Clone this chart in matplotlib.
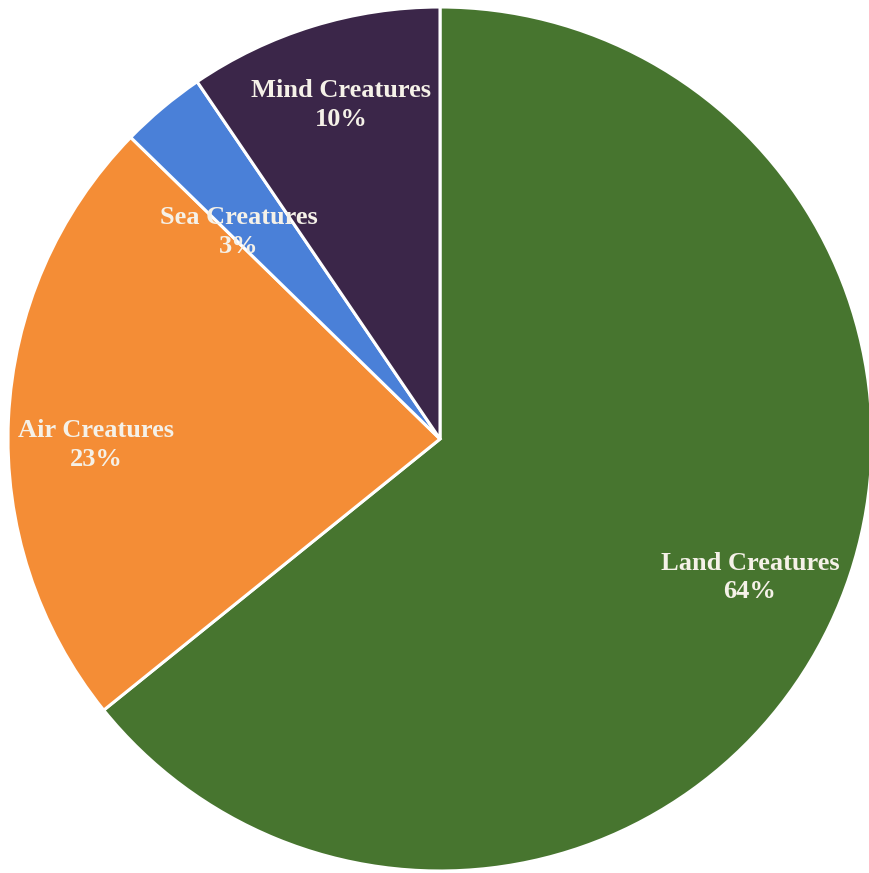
import matplotlib.pyplot as plt
import numpy as np

names = ['Land Creatures', 'Air Creatures', 'Sea Creatures', 'Mind Creatures']
values = [64.2, 23.1, 3.2, 9.5]
pct_labels = ['64%', '23%', '3%', '10%']
colors = ['#47752f', '#f48d36', '#4a80d8', '#3b2649']

fig = plt.figure(figsize=(8.69, 8.73), dpi=100)
ax = fig.add_axes([0, 0, 1, 1])

wedges, _ = ax.pie(values, colors=colors, startangle=90, counterclock=False,
                   radius=1, center=(0, 0),
                   wedgeprops=dict(edgecolor='white', linewidth=2.2))

# label placement: radius fraction and angle nudge (deg) per slice
label_r = [0.786, 0.796, 0.668, 0.806]
label_nudge = [1.5, 3.7, 4.2, -0.6]
for w, name, pct, r, da in zip(wedges, names, pct_labels, label_r, label_nudge):
    ang = np.deg2rad((w.theta1 + w.theta2) / 2 + da)
    ax.text(r * np.cos(ang), r * np.sin(ang), f'{name}\n{pct}',
            ha='center', va='center', color='#f5f1e8', fontsize=19,
            fontweight='bold', family='Liberation Serif', linespacing=1.3)

# pie centre at (440, 439) px, radius 432 px
s = 432.0
ax.set_xlim(-440 / s, (869 - 440) / s)
ax.set_ylim(-(873 - 439) / s, 439 / s)
ax.set_aspect('auto')
ax.axis('off')

fig.savefig('out.png', dpi=100)
